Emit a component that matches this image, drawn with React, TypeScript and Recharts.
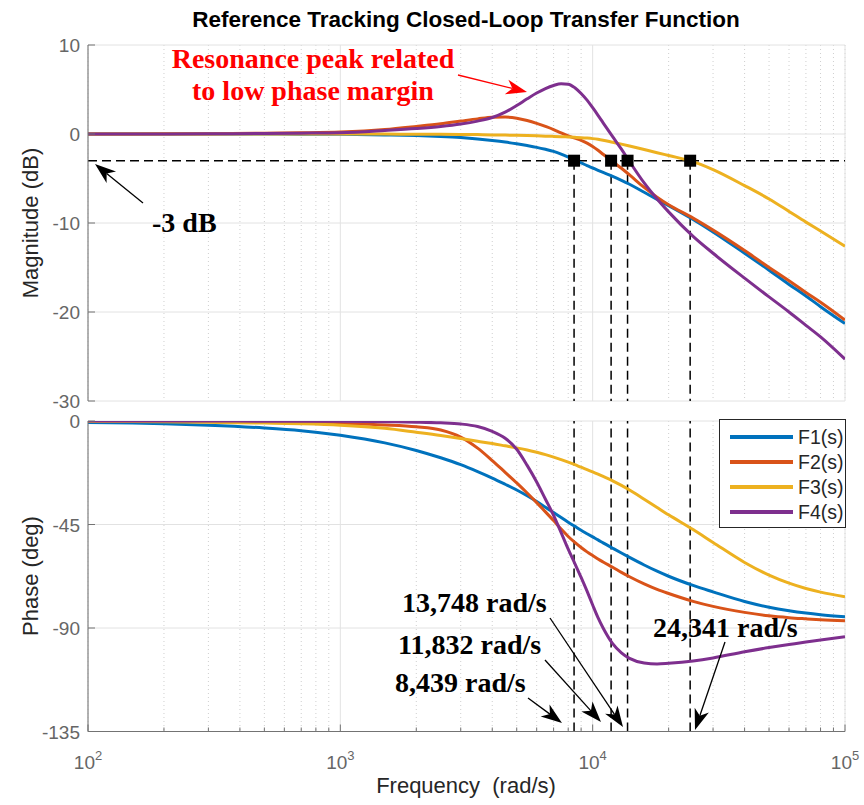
import React from 'react';
import { ComposedChart, Line, XAxis, YAxis, CartesianGrid, ReferenceLine, Scatter } from 'recharts';

const freqs = [100, 150, 200, 300, 500, 700, 1000, 1500, 2000, 2500, 3000, 3500, 4000, 4500, 5000, 5500, 6000, 6500, 7000, 7500, 8000, 8500, 9000, 9500, 10000, 10500, 11000, 12000, 13000, 14000, 16000, 18000, 20000, 25000, 30000, 40000, 50000, 60000, 70000, 80000, 100000];

const f1Mag = [0, 0, 0, 0, -0.01, -0.02, -0.04, -0.1, -0.18, -0.28, -0.4, -0.55, -0.72, -0.9, -1.1, -1.3, -1.5, -1.72, -1.95, -2.25, -2.6, -2.95, -3.25, -3.55, -3.82, -4.08, -4.32, -4.75, -5.2, -5.65, -6.55, -7.35, -8.05, -9.6, -11.0, -13.4, -15.3, -16.9, -18.2, -19.4, -21.3];
const f2Mag = [0, 0.01, 0.02, 0.04, 0.08, 0.13, 0.22, 0.5, 0.85, 1.15, 1.45, 1.7, 1.88, 1.9, 1.78, 1.52, 1.2, 0.85, 0.5, 0.12, -0.2, -0.47, -0.72, -1.02, -1.4, -1.83, -2.28, -3.1, -3.85, -4.6, -6.0, -7.1, -7.95, -9.45, -10.8, -13.1, -15.0, -16.5, -17.8, -18.9, -20.9];
const f3Mag = [0, 0, 0, 0, 0, 0, 0, -0.01, -0.02, -0.03, -0.05, -0.07, -0.1, -0.12, -0.15, -0.18, -0.21, -0.24, -0.27, -0.3, -0.33, -0.37, -0.41, -0.46, -0.52, -0.6, -0.7, -0.93, -1.14, -1.35, -1.75, -2.1, -2.42, -3.1, -4.0, -5.8, -7.3, -8.7, -9.9, -10.9, -12.6];
const f4Mag = [0, 0, 0.01, 0.02, 0.05, 0.09, 0.15, 0.4, 0.62, 0.85, 1.12, 1.45, 1.85, 2.45, 3.2, 3.95, 4.6, 5.1, 5.45, 5.65, 5.6, 5.2, 4.55, 3.8, 2.95, 2.1, 1.25, -0.3, -1.7, -3.1, -5.5, -7.3, -8.75, -11.5, -13.4, -16.2, -18.3, -20.0, -21.5, -22.8, -25.3];

const f1Phase = [-0.6, -0.9, -1.2, -1.8, -3.0, -4.2, -6.2, -9.5, -12.8, -16.0, -19.0, -22.0, -24.8, -27.5, -30.0, -32.5, -35.0, -37.5, -39.8, -42.0, -44.0, -45.8, -47.5, -49.0, -50.4, -51.7, -53.0, -55.3, -57.4, -59.3, -62.6, -65.3, -67.5, -71.5, -74.3, -78.5, -81.0, -82.5, -83.5, -84.2, -85.1];
const f2Phase = [-0.1, -0.15, -0.2, -0.3, -0.5, -0.75, -1.1, -1.7, -2.5, -3.9, -7.0, -11.8, -17.2, -22.3, -26.9, -31.3, -35.5, -39.5, -43.3, -47.0, -50.2, -52.8, -55.0, -56.9, -58.5, -60.0, -61.3, -63.6, -65.8, -67.7, -70.8, -73.2, -75.0, -78.4, -80.6, -83.2, -84.7, -85.5, -86.0, -86.4, -86.9];
const f3Phase = [-0.18, -0.27, -0.37, -0.55, -0.9, -1.2, -1.8, -3.2, -4.9, -6.3, -7.6, -8.8, -9.8, -10.8, -11.7, -12.6, -13.6, -14.6, -15.7, -16.8, -17.9, -19.0, -20.1, -21.1, -22.1, -23.1, -24.1, -26.0, -28.0, -30.0, -34.0, -37.6, -40.8, -47.2, -52.8, -61.5, -67.0, -70.5, -72.8, -74.4, -76.4];
const f4Phase = [0, 0, -0.02, -0.04, -0.07, -0.1, -0.15, -0.3, -0.5, -0.8, -1.3, -2.4, -4.5, -7.5, -12.3, -19.3, -26.5, -34.0, -41.0, -48.5, -55.7, -62.0, -68.0, -74.0, -80.0, -85.5, -90.0, -96.8, -100.8, -103.2, -105.2, -105.6, -105.3, -104.3, -103.0, -100.3, -98.5, -97.2, -96.1, -95.2, -93.8];

const seriesKeys = ['F1', 'F2', 'F3', 'F4'];
const seriesNames = ['F1(s)', 'F2(s)', 'F3(s)', 'F4(s)'];
const seriesColors = ['#0072BD', '#D95319', '#EDB120', '#7E2F8E'];

const cutoffFreqs = [8439, 11832, 13748, 24341];
const cutoffLevel = -3;
const cutoffLabels = ['8,439 rad/s', '11,832 rad/s', '13,748 rad/s', '24,341 rad/s'];

const majorTicks = [100, 1000, 10000, 100000];
const minorTicks = [200, 300, 400, 500, 600, 700, 800, 900, 2000, 3000, 4000, 5000, 6000, 7000, 8000, 9000, 20000, 30000, 40000, 50000, 60000, 70000, 80000, 90000];
const allTicks = [...majorTicks, ...minorTicks].sort((a, b) => a - b);
const magTicks = [10, 0, -10, -20, -30];
const phaseTicks = [0, -45, -90, -135];

const magRows = [f1Mag, f2Mag, f3Mag, f4Mag];
const phaseRows = [f1Phase, f2Phase, f3Phase, f4Phase];
const magData = freqs.map((f, i) => {
  const o: any = { f };
  seriesKeys.forEach((k, j) => { o[k] = magRows[j][i]; });
  return o;
});
const phaseData = freqs.map((f, i) => {
  const o: any = { f };
  seriesKeys.forEach((k, j) => { o[k] = phaseRows[j][i]; });
  return o;
});
const cutoffData = cutoffFreqs.map((f) => ({ f, m: cutoffLevel }));

const SANS = '"Liberation Sans", Arial, Helvetica, sans-serif';
const SERIF = '"Liberation Serif", "Times New Roman", serif';
const AXIS = '#737373';
const TICKTXT = '#666666';
const MAJOR_GRID = '#e2e2e2';
const MINOR_GRID = '#cfcfcf';

const isMajor = (v: number) => majorTicks.includes(v);

const BottomTick = (props: any) => {
  const { x, y, payload, showLabel } = props;
  const v = payload.value;
  const len = isMajor(v) ? 7 : 4;
  return (
    <g>
      <line x1={x} x2={x} y1={y} y2={y - len} stroke={AXIS} strokeWidth={1} />
      {showLabel && isMajor(v) ? (
        <text x={x} y={y + 37} textAnchor="middle" fill={TICKTXT} fontSize={19} fontFamily={SANS}>
          10<tspan dy={-9} fontSize={13}>{String(Math.round(Math.log10(v)))}</tspan>
        </text>
      ) : null}
    </g>
  );
};

const TopTick = (props: any) => {
  const { x, y, payload } = props;
  const len = isMajor(payload.value) ? 7 : 4;
  return <line x1={x} x2={x} y1={y} y2={y + len} stroke={AXIS} strokeWidth={1} />;
};

const LeftTick = (props: any) => {
  const { x, y, payload } = props;
  return (
    <g>
      <line x1={x} x2={x + 7} y1={y} y2={y} stroke={AXIS} strokeWidth={1} />
      <text x={x - 8} y={y + 7} textAnchor="end" fill={TICKTXT} fontSize={19} fontFamily={SANS}>{payload.value}</text>
    </g>
  );
};

const RightTick = (props: any) => {
  const { x, y } = props;
  return <line x1={x} x2={x - 7} y1={y} y2={y} stroke={AXIS} strokeWidth={1} />;
};

const SquareMarker = (props: any) => {
  const { cx, cy } = props;
  if (cx == null || cy == null) return null;
  return <rect x={cx - 6} y={cy - 6} width={12} height={12} fill="#000" />;
};

const dash = '9 5';
const dashWidth = 1.5;

function renderCommon(domainY: [number, number], yTicks: number[], showLabels: boolean, bottomHeight: number) {
  return [
    <XAxis key="xmin" xAxisId="minor" dataKey="f" type="number" scale="log" domain={[100, 100000]} allowDataOverflow ticks={minorTicks} interval={0} hide />,
    <XAxis key="xmaj" xAxisId="major" dataKey="f" type="number" scale="log" domain={[100, 100000]} allowDataOverflow ticks={majorTicks} interval={0} hide />,
    <CartesianGrid key="gmin" xAxisId="minor" horizontal={false} stroke={MINOR_GRID} strokeDasharray="1 3" />,
    <CartesianGrid key="gmaj" xAxisId="major" stroke={MAJOR_GRID} />,
    <XAxis key="xb" dataKey="f" type="number" scale="log" domain={[100, 100000]} allowDataOverflow ticks={allTicks} interval={0}
      tickSize={0} tickMargin={0} height={bottomHeight} axisLine={{ stroke: AXIS }} tickLine={false}
      tick={(p: any) => <BottomTick {...p} showLabel={showLabels} />} />,
    <XAxis key="xt" xAxisId="top" orientation="top" dataKey="f" type="number" scale="log" domain={[100, 100000]} allowDataOverflow ticks={allTicks} interval={0}
      tickSize={0} tickMargin={0} height={0} axisLine={{ stroke: AXIS }} tickLine={false} tick={(p: any) => <TopTick {...p} />} />,
    <YAxis key="yl" type="number" domain={domainY} allowDataOverflow ticks={yTicks} interval={0} width={88}
      tickSize={0} tickMargin={0} axisLine={{ stroke: AXIS }} tickLine={false} tick={(p: any) => <LeftTick {...p} />} />,
    <YAxis key="yr" yAxisId="right" orientation="right" type="number" domain={domainY} allowDataOverflow ticks={yTicks} interval={0} width={0}
      tickSize={0} tickMargin={0} axisLine={{ stroke: AXIS }} tickLine={false} tick={(p: any) => <RightTick {...p} />} />,
  ];
}

function seriesLines() {
  return seriesKeys.map((k, i) => (
    <Line key={k} dataKey={k} name={seriesNames[i]} type="monotone" stroke={seriesColors[i]} strokeWidth={3}
      dot={false} activeDot={false} isAnimationActive={false} />
  ));
}

type ArrowSpec = { x1: number; y1: number; x2: number; y2: number; color: string };
const arrows: ArrowSpec[] = [
  { x1: 458, y1: 75, x2: 527, y2: 92, color: '#ff0000' },
  { x1: 143, y1: 203, x2: 95, y2: 164, color: '#000' },
  { x1: 528, y1: 698, x2: 562, y2: 723, color: '#000' },
  { x1: 545, y1: 660, x2: 601, y2: 722, color: '#000' },
  { x1: 550, y1: 618, x2: 623, y2: 727, color: '#000' },
  { x1: 725, y1: 642, x2: 695, y2: 730, color: '#000' },
];
const labelPos = [
  { x: 395, y: 692 },
  { x: 398, y: 654 },
  { x: 402, y: 612 },
  { x: 653, y: 637 },
];

const Arrow = ({ x1, y1, x2, y2, color }: ArrowSpec) => {
  const L = 21, W = 7.5, notch = 6;
  const dx = x2 - x1, dy = y2 - y1;
  const d = Math.hypot(dx, dy);
  const ux = dx / d, uy = dy / d;
  const nx = -uy, ny = ux;
  const bx = x2 - L * ux, by = y2 - L * uy;
  const mx = x2 - (L - notch) * ux, my = y2 - (L - notch) * uy;
  const pts = [[x2, y2], [bx + W * nx, by + W * ny], [mx, my], [bx - W * nx, by - W * ny]]
    .map((p) => p.join(',')).join(' ');
  return (
    <g>
      <line x1={x1} y1={y1} x2={mx} y2={my} stroke={color} strokeWidth={1.3} />
      <polygon points={pts} fill={color} />
    </g>
  );
};

export default function App() {
  return (
    <div style={{ position: 'absolute', left: 0, top: 0, width: 864, height: 805, background: '#fff', overflow: 'hidden' }}>
      <div style={{ position: 'absolute', left: 0, top: 0 }}>
        <ComposedChart width={864} height={420} data={magData} margin={{ top: 45, right: 19, bottom: 19, left: 0 }}>
          {renderCommon([-30, 10], magTicks, false, 0)}
          <ReferenceLine y={cutoffLevel} stroke="#000" strokeWidth={dashWidth} strokeDasharray={dash} />
          {cutoffFreqs.map((f) => (
            <ReferenceLine key={'s' + f} segment={[{ x: f, y: cutoffLevel }, { x: f, y: -30 }]} stroke="#000" strokeWidth={dashWidth} strokeDasharray={dash} />
          ))}
          {seriesLines()}
          <Scatter data={cutoffData} dataKey="m" shape={SquareMarker} isAnimationActive={false} />
        </ComposedChart>
      </div>
      <div style={{ position: 'absolute', left: 0, top: 400 }}>
        <ComposedChart width={864} height={405} data={phaseData} margin={{ top: 21, right: 19, bottom: 33.5, left: 0 }}>
          {renderCommon([-135, 0], phaseTicks, true, 40)}
          {cutoffFreqs.map((f) => (
            <ReferenceLine key={'v' + f} x={f} stroke="#000" strokeWidth={dashWidth} strokeDasharray={dash} />
          ))}
          {seriesLines()}
        </ComposedChart>
      </div>
      <div style={{ position: 'absolute', left: 719, top: 419, width: 125, height: 107, border: '1px solid #262626', background: '#fff', fontFamily: SANS }}>
        {seriesNames.map((n, i) => (
          <div key={n} style={{ position: 'absolute', left: 0, top: 4 + i * 25, height: 25, width: 125 }}>
            <div style={{ position: 'absolute', left: 10, top: 11, width: 63, height: 4, background: seriesColors[i] }} />
            <div style={{ position: 'absolute', left: 78, top: 1, fontSize: 19.5, lineHeight: '24px', color: '#262626' }}>{n}</div>
          </div>
        ))}
      </div>
      <svg width={864} height={805} style={{ position: 'absolute', left: 0, top: 0, pointerEvents: 'none' }}>
        <text x={466} y={27} textAnchor="middle" fontFamily={SANS} fontWeight="bold" fontSize={22.5} fill="#000">Reference Tracking Closed-Loop Transfer Function</text>
        <text transform="translate(38,223) rotate(-90)" textAnchor="middle" fontFamily={SANS} fontSize={22} fill="#262626">Magnitude (dB)</text>
        <text transform="translate(38,576) rotate(-90)" textAnchor="middle" fontFamily={SANS} fontSize={22} fill="#262626">Phase (deg)</text>
        <text x={466} y={793} textAnchor="middle" fontFamily={SANS} fontSize={22} fill="#262626" style={{ whiteSpace: 'pre' }}>{'Frequency  (rad/s)'}</text>
        <text x={313} y={68} textAnchor="middle" fontFamily={SERIF} fontWeight="bold" fontSize={28} fill="#ff0000">Resonance peak related</text>
        <text x={313} y={100} textAnchor="middle" fontFamily={SERIF} fontWeight="bold" fontSize={28} fill="#ff0000">to low phase margin</text>
        <text x={152} y={232} fontFamily={SERIF} fontWeight="bold" fontSize={28} fill="#000">-3 dB</text>
        {cutoffLabels.map((t, i) => (
          <text key={t} x={labelPos[i].x} y={labelPos[i].y} fontFamily={SERIF} fontWeight="bold" fontSize={28} fill="#000">{t}</text>
        ))}
        {arrows.map((a, i) => <Arrow key={i} {...a} />)}
      </svg>
    </div>
  );
}
